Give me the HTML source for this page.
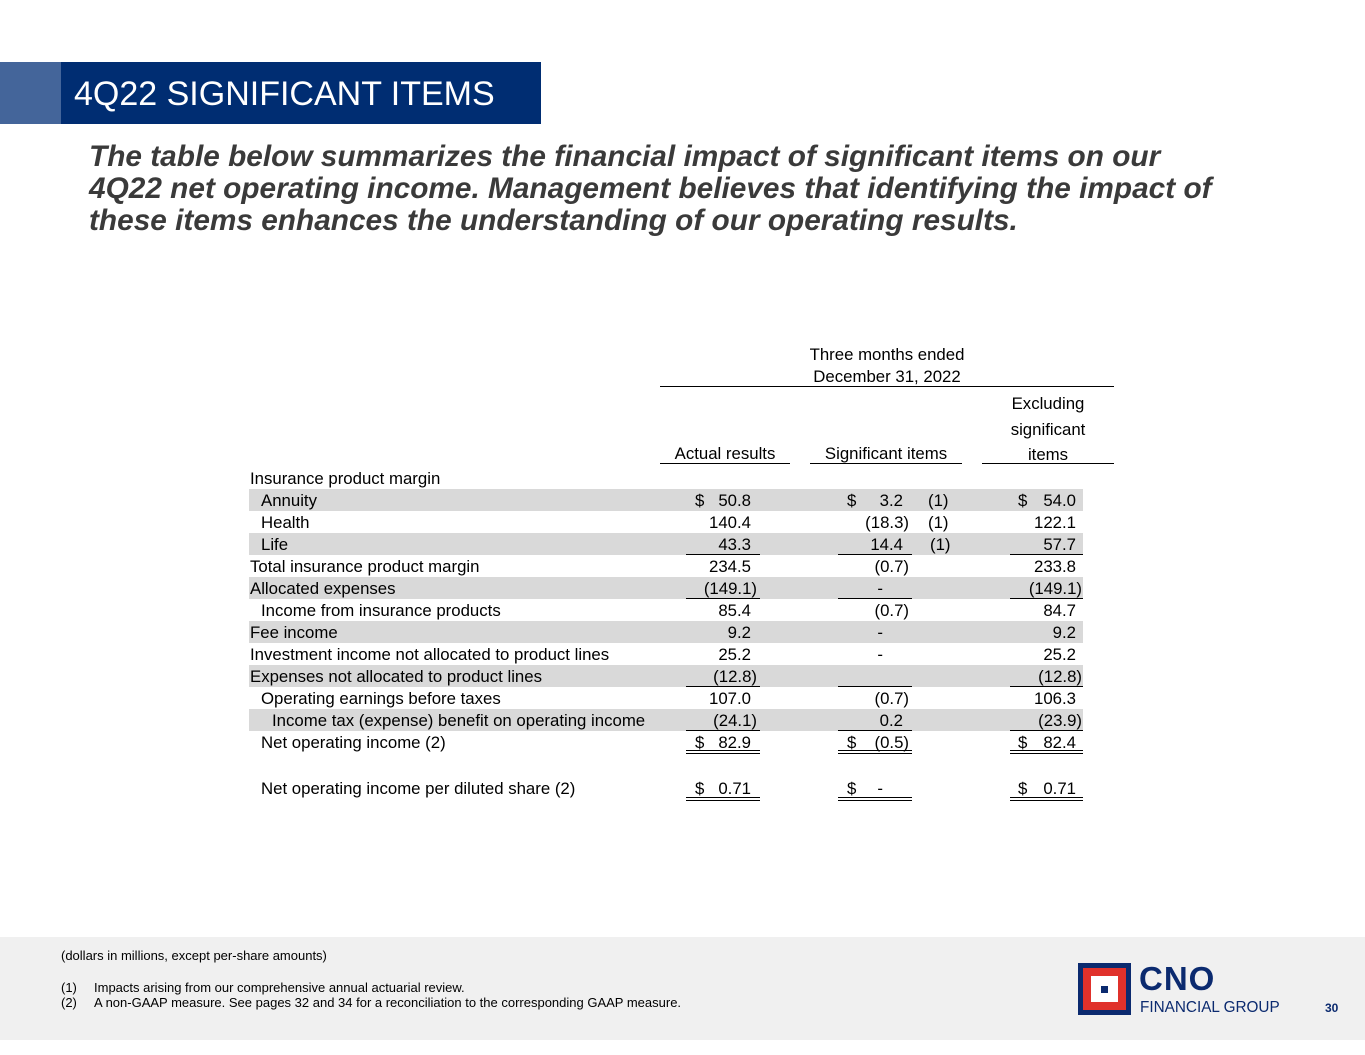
<!DOCTYPE html>
<html><head><meta charset="utf-8">
<style>
*{margin:0;padding:0;box-sizing:border-box}
body{width:1365px;height:1055px;background:#fff;position:relative;overflow:hidden;font-family:"Liberation Sans",Arial,sans-serif;color:#000}
.abs{position:absolute}
.row{position:absolute;left:249px;width:834px;height:22px;line-height:24px;font-size:16.8px}
.sh{background:#d9d9d9}
.lab{position:absolute;white-space:nowrap}
.c{position:absolute;top:0;height:22px;text-align:right;white-space:nowrap}
.a{left:431px;width:77px}
.s{left:583px;width:77px}
.e{left:755px;width:78px}
.p{padding-right:6px}
.d{position:absolute;top:0}
.ul{position:absolute;height:1px;background:#000}
.dl{position:absolute;height:4px;border-top:1px solid #000;border-bottom:1px solid #000}
.hd{position:absolute;font-size:16.8px;text-align:center;white-space:nowrap}
</style></head><body>
<div class="abs" style="left:0;top:62px;width:61px;height:62px;background:#44659a"></div>
<div class="abs" style="left:61px;top:62px;width:480px;height:62px;background:#002d72;color:#fff;font-size:34px;line-height:64px;padding-left:13px;white-space:nowrap">4Q22 SIGNIFICANT ITEMS</div>
<div class="abs" style="left:89px;top:141px;width:1250px;font-size:29.8px;line-height:32px;font-weight:bold;font-style:italic;color:#3a3a3a;white-space:nowrap">The table below summarizes the financial impact of significant items on our<br>4Q22 net operating income. Management believes that identifying the impact of<br>these items enhances the understanding of our operating results.</div>

<div class="hd" style="left:660px;width:454px;top:344px;line-height:22px">Three months ended<br>December 31, 2022</div>
<div class="ul" style="left:660px;width:454px;top:386px"></div>
<div class="hd" style="left:660px;width:130px;top:443px;line-height:22px">Actual results</div>
<div class="hd" style="left:810px;width:152px;top:443px;line-height:22px">Significant items</div>
<div class="hd" style="left:982px;width:132px;top:391px;line-height:25.5px">Excluding<br>significant<br>items</div>
<div class="ul" style="left:660px;width:130px;top:463px"></div>
<div class="ul" style="left:810px;width:152px;top:463px"></div>
<div class="ul" style="left:982px;width:132px;top:463px"></div>

<div class="row" style="top:467px"><span class="lab" style="left:1px">Insurance product margin</span></div>

<div class="row sh" style="top:489px"><span class="lab" style="left:12px">Annuity</span>
<span class="d" style="left:446px">$</span><span class="c a p">50.8</span>
<span class="d" style="left:598px">$</span><span class="c s p">3.2</span><span class="d" style="left:679px">(1)</span>
<span class="d" style="left:769px">$</span><span class="c e p">54.0</span></div>

<div class="row" style="top:511px"><span class="lab" style="left:12px">Health</span>
<span class="c a p">140.4</span><span class="c s">(18.3)</span><span class="d" style="left:679px">(1)</span><span class="c e p">122.1</span></div>

<div class="row sh" style="top:533px"><span class="lab" style="left:12px">Life</span>
<span class="c a p">43.3</span><span class="c s p">14.4</span><span class="d" style="left:681px">(1)</span><span class="c e p">57.7</span>
<div class="ul" style="left:437px;width:74px;top:21px"></div><div class="ul" style="left:589px;width:74px;top:21px"></div><div class="ul" style="left:761px;width:73px;top:21px"></div></div>

<div class="row" style="top:555px"><span class="lab" style="left:1px">Total insurance product margin</span>
<span class="c a p">234.5</span><span class="c s">(0.7)</span><span class="c e p">233.8</span></div>

<div class="row sh" style="top:577px"><span class="lab" style="left:1px">Allocated expenses</span>
<span class="c a">(149.1)</span><span class="c s p" style="padding-right:26px">-</span><span class="c e">(149.1)</span>
<div class="ul" style="left:437px;width:74px;top:21px"></div><div class="ul" style="left:589px;width:74px;top:21px"></div><div class="ul" style="left:761px;width:73px;top:21px"></div></div>

<div class="row" style="top:599px"><span class="lab" style="left:12px">Income from insurance products</span>
<span class="c a p">85.4</span><span class="c s">(0.7)</span><span class="c e p">84.7</span></div>

<div class="row sh" style="top:621px"><span class="lab" style="left:1px">Fee income</span>
<span class="c a p">9.2</span><span class="c s p" style="padding-right:26px">-</span><span class="c e p">9.2</span></div>

<div class="row" style="top:643px"><span class="lab" style="left:1px">Investment income not allocated to product lines</span>
<span class="c a p">25.2</span><span class="c s p" style="padding-right:26px">-</span><span class="c e p">25.2</span></div>

<div class="row sh" style="top:665px"><span class="lab" style="left:1px">Expenses not allocated to product lines</span>
<span class="c a">(12.8)</span><span class="c e">(12.8)</span>
<div class="ul" style="left:437px;width:74px;top:21px"></div><div class="ul" style="left:589px;width:74px;top:21px"></div><div class="ul" style="left:761px;width:73px;top:21px"></div></div>

<div class="row" style="top:687px"><span class="lab" style="left:12px">Operating earnings before taxes</span>
<span class="c a p">107.0</span><span class="c s">(0.7)</span><span class="c e p">106.3</span></div>

<div class="row sh" style="top:709px"><span class="lab" style="left:23px">Income tax (expense) benefit on operating income</span>
<span class="c a">(24.1)</span><span class="c s p">0.2</span><span class="c e">(23.9)</span>
<div class="ul" style="left:437px;width:74px;top:21px"></div><div class="ul" style="left:589px;width:74px;top:21px"></div><div class="ul" style="left:761px;width:73px;top:21px"></div></div>

<div class="row" style="top:731px"><span class="lab" style="left:12px">Net operating income (2)</span>
<span class="d" style="left:446px">$</span><span class="c a p">82.9</span>
<span class="d" style="left:598px">$</span><span class="c s">(0.5)</span>
<span class="d" style="left:769px">$</span><span class="c e p">82.4</span>
<div class="dl" style="left:437px;width:74px;top:19px"></div><div class="dl" style="left:589px;width:74px;top:19px"></div><div class="dl" style="left:761px;width:73px;top:19px"></div></div>

<div class="row" style="top:777px"><span class="lab" style="left:12px">Net operating income per diluted share (2)</span>
<span class="d" style="left:446px">$</span><span class="c a p">0.71</span>
<span class="d" style="left:598px">$</span><span class="c s p" style="padding-right:26px">-</span>
<span class="d" style="left:769px">$</span><span class="c e p">0.71</span>
<div class="dl" style="left:437px;width:74px;top:20px"></div><div class="dl" style="left:589px;width:74px;top:20px"></div><div class="dl" style="left:761px;width:73px;top:20px"></div></div>

<div class="abs" style="left:0;top:937px;width:1365px;height:103px;background:#f0f0f0"></div>
<div class="abs" style="left:61px;top:948px;font-size:13px;white-space:nowrap">(dollars in millions, except per-share amounts)</div>
<div class="abs" style="left:61px;top:980px;font-size:13px;line-height:15px;white-space:nowrap"><span style="display:inline-block;width:33px">(1)</span>Impacts arising from our comprehensive annual actuarial review.<br><span style="display:inline-block;width:33px">(2)</span>A non-GAAP measure. See pages 32 and 34 for a reconciliation to the corresponding GAAP measure.</div>

<div class="abs" style="left:1078px;top:963px;width:53px;height:52px;background:#0b2a6f;padding:5px">
<div style="width:43px;height:42px;background:#e0312b;padding:8px"><div style="width:27px;height:26px;background:#fff;position:relative"><div style="position:absolute;left:10px;top:10px;width:7px;height:7px;background:#0b2a6f"></div></div></div></div>
<div class="abs" style="left:1139px;top:961px;font-size:33px;font-weight:bold;color:#0b2a6f;line-height:36px;letter-spacing:1px">CNO</div>
<div class="abs" style="left:1140px;top:998px;font-size:15.3px;color:#0b2a6f;line-height:20px;white-space:nowrap">FINANCIAL GROUP</div>
<div class="abs" style="left:1325px;top:1001px;font-size:12px;font-weight:bold;color:#0b2a6f">30</div>
</body></html>
